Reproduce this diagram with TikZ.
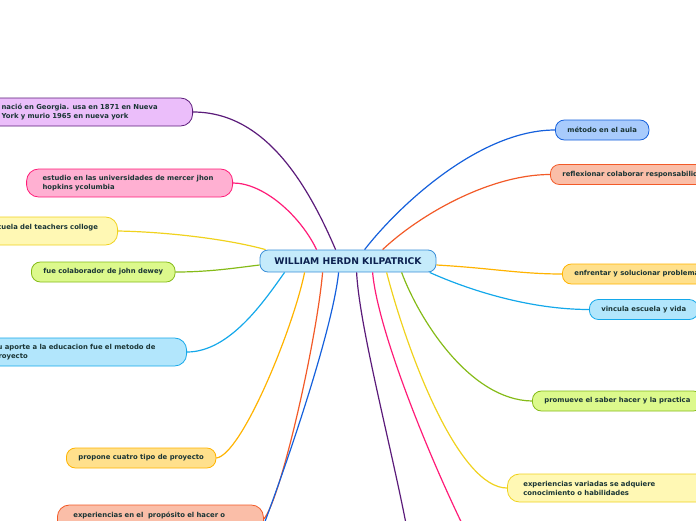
\documentclass[tikz,border=0pt]{standalone}
\usepackage{fontspec}
\newfontfamily\mmfont{DejaVu Sans}
\newcommand\leaffont{\mmfont\bfseries\fontsize{6.85pt}{9pt}\selectfont}
\newcommand\rootfont{\mmfont\bfseries\fontsize{9.2pt}{11pt}\selectfont}
\definecolor{txt}{HTML}{1A3535}
\definecolor{roottxt}{HTML}{0C2150}
\definecolor{rootF}{HTML}{C5EBFB}
\definecolor{rootB}{HTML}{3A8FD8}
\definecolor{pur}{HTML}{5B1B7A}
\definecolor{purF}{HTML}{EBBEFA}
\definecolor{pnk}{HTML}{FF1C78}
\definecolor{pnkF}{HTML}{FFB0D2}
\definecolor{yel}{HTML}{F0D21E}
\definecolor{yelF}{HTML}{FFF8B4}
\definecolor{grn}{HTML}{85BB18}
\definecolor{grnF}{HTML}{DCF98C}
\definecolor{cya}{HTML}{14A8EA}
\definecolor{cyaF}{HTML}{B2E6FC}
\definecolor{org}{HTML}{FFB300}
\definecolor{orgF}{HTML}{FFE08C}
\definecolor{rdo}{HTML}{F25A28}
\definecolor{rdoF}{HTML}{FABEA8}
\definecolor{blu}{HTML}{1560DC}
\definecolor{bluF}{HTML}{A8CBFC}
\begin{document}
\begin{tikzpicture}[x=1pt,y=-1pt,
  leaf/.style={draw, rounded corners=9pt, line width=0.8pt, font=\leaffont, text=txt, inner ysep=0pt, minimum height=20pt, inner xsep=12pt},
  twoline/.style={leaf, rounded corners=12pt, minimum height=28pt, inner xsep=16pt, align=left},
  rootnode/.style={draw=rootB, fill=rootF, rounded corners=8pt, line width=0.8pt, font=\rootfont, text=roottxt, minimum width=176pt, minimum height=22pt, inner sep=0pt},
  link/.style={line width=1.2pt}
]
\useasboundingbox (0,0) rectangle (696,520);

% root
\node[rootnode] (c) at (348,261) {WILLIAM HERDN KILPATRICK};

% left nodes
\node[twoline, draw=pur, fill=purF, text width=175pt, anchor=east] (nacio) at (193,112) {\mbox{nació en Georgia. usa en 1871 en Nueva}\\\mbox{York y murio 1965 en nueva york}};
\node[twoline, draw=pnk, fill=pnkF, text width=174pt, anchor=east] (estudio) at (233,183) {\mbox{estudio en las universidades de mercer jhon}\\\mbox{hopkins ycolumbia}};
\node[twoline, draw=yel, fill=yelF, text width=113pt, anchor=east] (teach) at (118,231) {\mbox{escuela del teachers colloge}\\\mbox{}};
\node[leaf, draw=grn, fill=grnF, anchor=west] (dewey) at (31,272) {fue colaborador de john dewey};
\node[twoline, draw=cya, fill=cyaF, text width=177pt, anchor=east] (aporte) at (187,352) {\mbox{su aporte a la educacion fue el metodo de}\\\mbox{proyecto}};
\node[leaf, draw=org, fill=orgF, anchor=west] (propone) at (66,458) {propone cuatro tipo de proyecto};
\node[twoline, draw=rdo, fill=rdoF, text width=174pt, anchor=west] (expen) at (57,519) {\mbox{experiencias en el~ propósito el hacer o}\\\mbox{}};

% right nodes
\node[leaf, draw=blu, fill=bluF, anchor=west] (metodo) at (555,130) {método en el aula};
\node[leaf, draw=rdo, fill=rdoF, anchor=west] (refl) at (550,174.5) {reflexionar colaborar responsabilidad};
\node[leaf, draw=org, fill=orgF, anchor=west] (enfr) at (562,274) {enfrentar y solucionar problemas};
\node[leaf, draw=cya, fill=cyaF, anchor=west] (vinc) at (589,309.5) {vincula escuela y vida};
\node[leaf, draw=grn, fill=grnF, anchor=west] (prom) at (532,401) {promueve el saber hacer y la practica};
\node[twoline, draw=yel, fill=yelF, text width=174pt, anchor=west] (expvar) at (507,488) {\mbox{experiencias variadas se adquiere}\\\mbox{conocimiento o habilidades}};

% off-picture ends
\coordinate (blueend) at (258,540);
\coordinate (purend) at (410,545);
\coordinate (pnkend) at (470,540);

% connectors
\draw[link, pur] (nacio.east) .. controls +(70,0) and +(-30,-70) .. ([xshift=76pt]c.north west);
\draw[link, pnk] (estudio.east) .. controls +(30,0) and +(-17,-35) .. ([xshift=57pt]c.north west);
\draw[link, yel] (teach.east) .. controls +(52,1) and +(-36,-10) .. ([xshift=6pt]c.north west);
\draw[link, grn] (dewey.east) .. controls +(34,0) and +(-25,3) .. ([yshift=-4pt]c.west);
\draw[link, cya] (aporte.east) .. controls +(43,0) and +(-20,28) .. ([xshift=25pt]c.south west);
\draw[link, org] (propone.east) .. controls +(25,-3) and +(-12,58) .. ([xshift=45pt]c.south west);
\draw[link, rdo] (expen.east) .. controls +(17,-19) and +(-6,68) .. ([xshift=63pt]c.south west);
\draw[link, blu] ([xshift=79pt]c.south west) .. controls +(-6,58) and +(27,-70) .. (blueend);
\draw[link, pur] ([xshift=97pt]c.south west) .. controls +(3,58) and +(-15,-85) .. (purend);
\draw[link, pnk] ([xshift=113pt]c.south west) .. controls +(5,58) and +(-40,-80) .. (pnkend);

\draw[link, blu] ([xshift=105pt]c.north west) .. controls +(35,-45) and +(-75,0) .. (metodo.west);
\draw[link, rdo] ([xshift=123pt]c.north west) .. controls +(37,-35) and +(-60,0) .. (refl.west);
\draw[link, org] ([yshift=-4pt]c.east) .. controls +(54,3) and +(-42,0) .. (enfr.west);
\draw[link, cya] ([xshift=170pt]c.south west) .. controls +(40,18) and +(-59,0) .. (vinc.west);
\draw[link, grn] ([xshift=142pt]c.south west) .. controls +(18,48) and +(-62,-1) .. (prom.west);
\draw[link, yel] ([xshift=127pt]c.south west) .. controls +(23,88) and +(-47,0) .. (expvar.west);
\end{tikzpicture}
\end{document}
